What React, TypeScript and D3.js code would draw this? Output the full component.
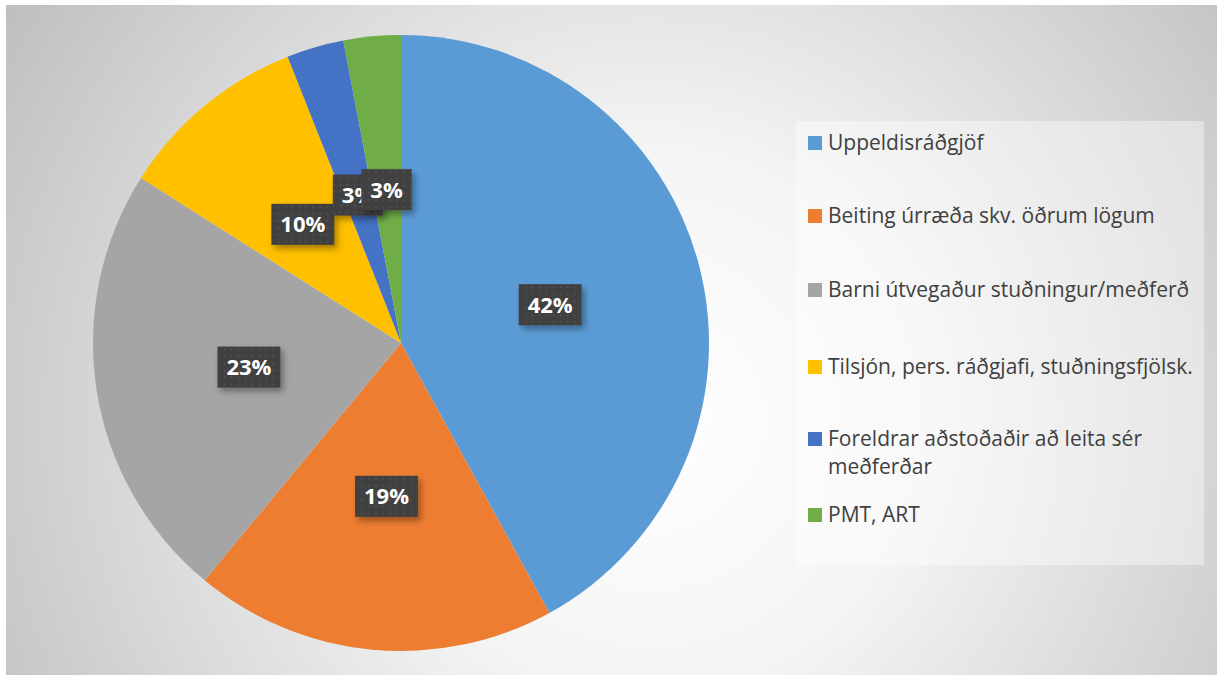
import * as d3 from "d3";
import { useMemo } from "react";

const categories = [
  "Uppeldisráðgjöf",
  "Beiting úrræða skv. öðrum lögum",
  "Barni útvegaður stuðningur/meðferð",
  "Tilsjón, pers. ráðgjafi, stuðningsfjölsk.",
  "Foreldrar aðstoðaðir að leita sér meðferðar",
  "PMT, ART",
];
const values = [42, 19, 23, 10, 3, 3];
const colors = ["#5B9BD5", "#ED7D31", "#A5A5A5", "#FFC000", "#4472C4", "#70AD47"];

const width = 1217;
const height = 675;
const font = "'Open Sans', 'DejaVu Sans', sans-serif";

// crude text measure for legend wrapping
function measure(text: string, size: number, weight = "normal") {
  const ctx = document.createElement("canvas").getContext("2d");
  if (!ctx) return text.length * size * 0.5;
  ctx.font = `${weight} ${size}px ${font}`;
  return ctx.measureText(text).width;
}

function wrap(text: string, maxW: number, size: number) {
  const words = text.split(" ");
  const lines: string[] = [];
  let cur = "";
  words.forEach((w) => {
    const t = cur ? cur + " " + w : w;
    if (cur && measure(t, size) > maxW) {
      lines.push(cur);
      cur = w;
    } else cur = t;
  });
  if (cur) lines.push(cur);
  return lines;
}

export default function App() {
  const cx = 401;
  const cy = 343;
  const radius = 308;

  const arcs = useMemo(
    () => d3.pie<number>().sort(null).value((d) => d)(values),
    []
  );
  const arc = d3.arc<d3.PieArcDatum<number>>().innerRadius(0).outerRadius(radius);
  const labelArc = d3
    .arc<d3.PieArcDatum<number>>()
    .innerRadius(radius * 0.5)
    .outerRadius(radius * 0.5);

  const total = d3.sum(values);
  const legendY = [143, 216, 290, 367, 439, 515];
  const legendSize = 21;

  return (
    <svg
      width={width}
      height={height}
      style={{ position: "absolute", left: 0, top: 0, fontFamily: font }}
    >
      <defs>
        <radialGradient id="bg" gradientUnits="userSpaceOnUse" cx={650} cy={420} r={780}>
          <stop offset="0" stopColor="#ffffff" />
          <stop offset="0.35" stopColor="#f4f4f4" />
          <stop offset="1" stopColor="#bdbdbd" />
        </radialGradient>
        <pattern id="dots" width={7} height={7} patternUnits="userSpaceOnUse">
          <rect width={7} height={7} fill="#404040" />
          <circle cx={3.5} cy={3.5} r={1} fill="#555" />
        </pattern>
        <filter id="shadow" x="-30%" y="-30%" width="160%" height="170%">
          <feDropShadow dx={3} dy={4} stdDeviation={3} floodColor="#000" floodOpacity={0.35} />
        </filter>
      </defs>

      <rect x={0} y={0} width={width} height={height} fill="#fff" />
      <rect x={6} y={5} width={width - 6} height={height - 5} fill="url(#bg)" />

      <g transform={`translate(${cx},${cy})`}>
        {arcs.map((a, i) => (
          <path key={i} d={arc(a) || ""} fill={colors[i]} />
        ))}
        {arcs.map((a, i) => {
          const [lx, ly] = labelArc.centroid(a);
          const txt = `${Math.round((values[i] / total) * 100)}%`;
          const w = measure(txt, 22, "bold") + 18;
          const h = 41;
          return (
            <g key={"l" + i} transform={`translate(${lx},${ly})`}>
              <rect
                x={-w / 2}
                y={-h / 2}
                width={w}
                height={h}
                fill="url(#dots)"
                filter="url(#shadow)"
              />
              <text
                textAnchor="middle"
                dy="0.36em"
                fill="#fff"
                fontWeight="bold"
                fontSize={22}
              >
                {txt}
              </text>
            </g>
          );
        })}
      </g>

      <rect x={796} y={121} width={408} height={444} fill="#fff" fillOpacity={0.4} />
      {categories.map((c, i) => {
        const lines = wrap(c, 372, legendSize);
        return (
          <g key={c} transform={`translate(808,${legendY[i]})`}>
            <rect x={0} y={-7} width={14} height={14} fill={colors[i]} />
            <text fontSize={legendSize} fill="#404040">
              {lines.map((l, j) => (
                <tspan key={j} x={20} dy={j === 0 ? "0.35em" : 28}>
                  {l}
                </tspan>
              ))}
            </text>
          </g>
        );
      })}
    </svg>
  );
}
